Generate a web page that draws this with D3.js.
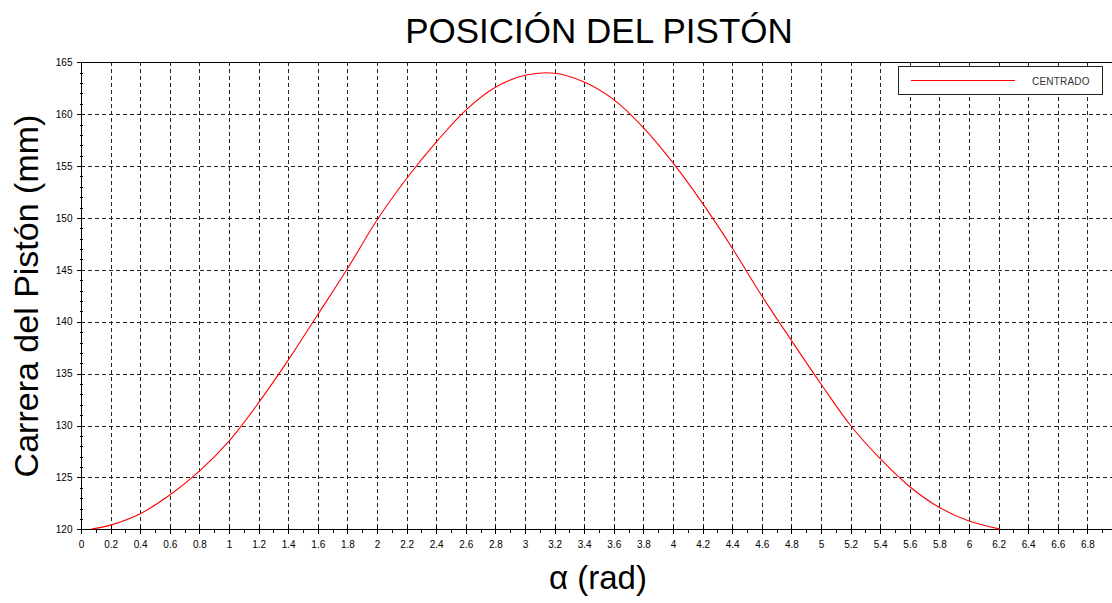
<!DOCTYPE html>
<html>
<head>
<meta charset="utf-8">
<script src="https://cdn.jsdelivr.net/npm/d3@7"></script>
<style>
  html, body { margin: 0; padding: 0; background: #fff; }
  svg { display: block; font-family: "Liberation Sans", Arial, sans-serif; }
</style>
</head>
<body>
<svg id="chart" width="1112" height="603"></svg>
<script>
// ---- data ----
const alpha = [0.07, 0.2, 0.4, 0.6, 0.8, 1.0, 1.2, 1.4, 1.6, 1.8, 2.0, 2.2, 2.4, 2.6, 2.8, 3.0,
               3.2, 3.4, 3.6, 3.8, 4.0, 4.2, 4.4, 4.6, 4.8, 5.0, 5.2, 5.4, 5.6, 5.8, 6.0, 6.21];
const carrera = [120.02, 120.4, 121.5, 123.3, 125.6, 128.5, 132.2, 136.3, 140.7, 145.1, 149.8, 153.8, 157.3, 160.4, 162.6, 163.75,
                 163.95, 163.1, 161.4, 158.7, 155.3, 151.4, 147.1, 142.5, 138.2, 134.0, 130.0, 126.8, 124.1, 122.1, 120.8, 120.02];
const xTicks = d3.range(0, 35).map(i => +(i * 0.2).toFixed(1));      // 0 .. 6.8
const yTicks = [120, 125, 130, 135, 140, 145, 150, 155, 160, 165];
const seriesName = "CENTRADO";
const titleText = "POSICIÓN DEL PISTÓN";
const xLabel = "α (rad)";
const yLabel = "Carrera del Pistón (mm)";

// ---- layout ----
const svg = d3.select("#chart");
const L = 81, T = 62.3, B = 529.3;
const x = d3.scaleLinear().domain([0, 7]).range([L, L + 7 * 148]);
const y = d3.scaleLinear().domain([120, 165]).range([B, T]);
const RIGHT = 1112;

// grid
const grid = svg.append("g").attr("stroke", "#222").attr("stroke-width", 1)
  .attr("stroke-dasharray", "4,3").attr("shape-rendering", "crispEdges");
grid.selectAll("line.v").data(xTicks.filter(d => d > 0)).join("line")
  .attr("x1", d => Math.round(x(d)) + 0.5).attr("x2", d => Math.round(x(d)) + 0.5)
  .attr("y1", T).attr("y2", B);
grid.selectAll("line.h").data(yTicks.filter(d => d > 120 && d < 165)).join("line")
  .attr("x1", L).attr("x2", RIGHT)
  .attr("y1", d => Math.round(y(d)) + 0.5).attr("y2", d => Math.round(y(d)) + 0.5);

// top border
svg.append("line").attr("x1", L).attr("x2", RIGHT).attr("y1", Math.round(T) + 0.5).attr("y2", Math.round(T) + 0.5)
  .attr("stroke", "#000").attr("shape-rendering", "crispEdges");

// x axis
const xAxis = svg.append("g").attr("transform", `translate(0,${Math.round(B) + 0.5})`);
xAxis.call(d3.axisBottom(x).tickValues(xTicks).tickSize(4).tickFormat(d => d3.format("~g")(d)))
  .call(g => g.select(".domain").attr("d", `M${L},0H${RIGHT}`).attr("stroke", "#000"))
  .call(g => g.selectAll(".tick line").attr("y1", -4).attr("stroke", "#000"))
  .call(g => g.selectAll(".tick text").attr("font-size", 10).attr("fill", "#000").attr("dy", null).attr("y", 18)
        .attr("font-family", "Liberation Sans, Arial, sans-serif"));
xAxis.attr("shape-rendering", "crispEdges");
// minor x ticks
const xMinor = d3.range(0, 35).map(i => +(i * 0.2 + 0.1).toFixed(1));
xAxis.selectAll("line.minor").data(xMinor).join("line").attr("class", "minor")
  .attr("x1", d => Math.round(x(d)) + 0.5).attr("x2", d => Math.round(x(d)) + 0.5)
  .attr("y1", 0).attr("y2", 3).attr("stroke", "#000");

// y axis
const yAxis = svg.append("g").attr("transform", `translate(${L + 0.5},0)`).attr("shape-rendering", "crispEdges");
yAxis.call(d3.axisLeft(y).tickValues(yTicks).tickSize(5))
  .call(g => g.select(".domain").attr("d", `M0,${T}V${B}`).attr("stroke", "#000"))
  .call(g => g.selectAll(".tick line").attr("stroke", "#000"))
  .call(g => g.selectAll(".tick text").attr("font-size", 10).attr("fill", "#000").attr("x", -9)
        .attr("font-family", "Liberation Sans, Arial, sans-serif"));
const yMinor = d3.range(121, 165).filter(d => d % 5 !== 0);
yAxis.selectAll("line.minor").data(yMinor).join("line").attr("class", "minor")
  .attr("x1", -2).attr("x2", 1)
  .attr("y1", d => Math.round(y(d)) + 0.5).attr("y2", d => Math.round(y(d)) + 0.5).attr("stroke", "#000");

// curve
const pts = alpha.map((a, i) => [a, carrera[i]]);
svg.append("path").datum(pts)
  .attr("fill", "none").attr("stroke", "#ff0000").attr("stroke-width", 1.1)
  .attr("d", d3.line().x(d => x(d[0])).y(d => y(d[1])).curve(d3.curveCatmullRom.alpha(0.5)));

// legend
const lg = svg.append("g");
lg.append("rect").attr("x", 898.5).attr("y", 66.5).attr("width", 204).attr("height", 28)
  .attr("fill", "#fff").attr("stroke", "#222").attr("shape-rendering", "crispEdges");
lg.append("line").attr("x1", 911).attr("x2", 1015).attr("y1", 80.5).attr("y2", 80.5)
  .attr("stroke", "#ff0000").attr("stroke-width", 1);
lg.append("text").attr("x", 1032).attr("y", 84.5).attr("font-size", 10).attr("fill", "#333")
  .attr("letter-spacing", 0.2).text(seriesName);

// titles
svg.append("text").attr("x", 599).attr("y", 43).attr("text-anchor", "middle")
  .attr("font-size", 35).attr("fill", "#000").text(titleText);
svg.append("text").attr("x", 598).attr("y", 589).attr("text-anchor", "middle")
  .attr("font-size", 33).attr("fill", "#000").text(xLabel);
svg.append("text").attr("transform", "translate(38,296) rotate(-90)").attr("text-anchor", "middle")
  .attr("font-size", 34).attr("fill", "#000").text(yLabel);
</script>
</body>
</html>
